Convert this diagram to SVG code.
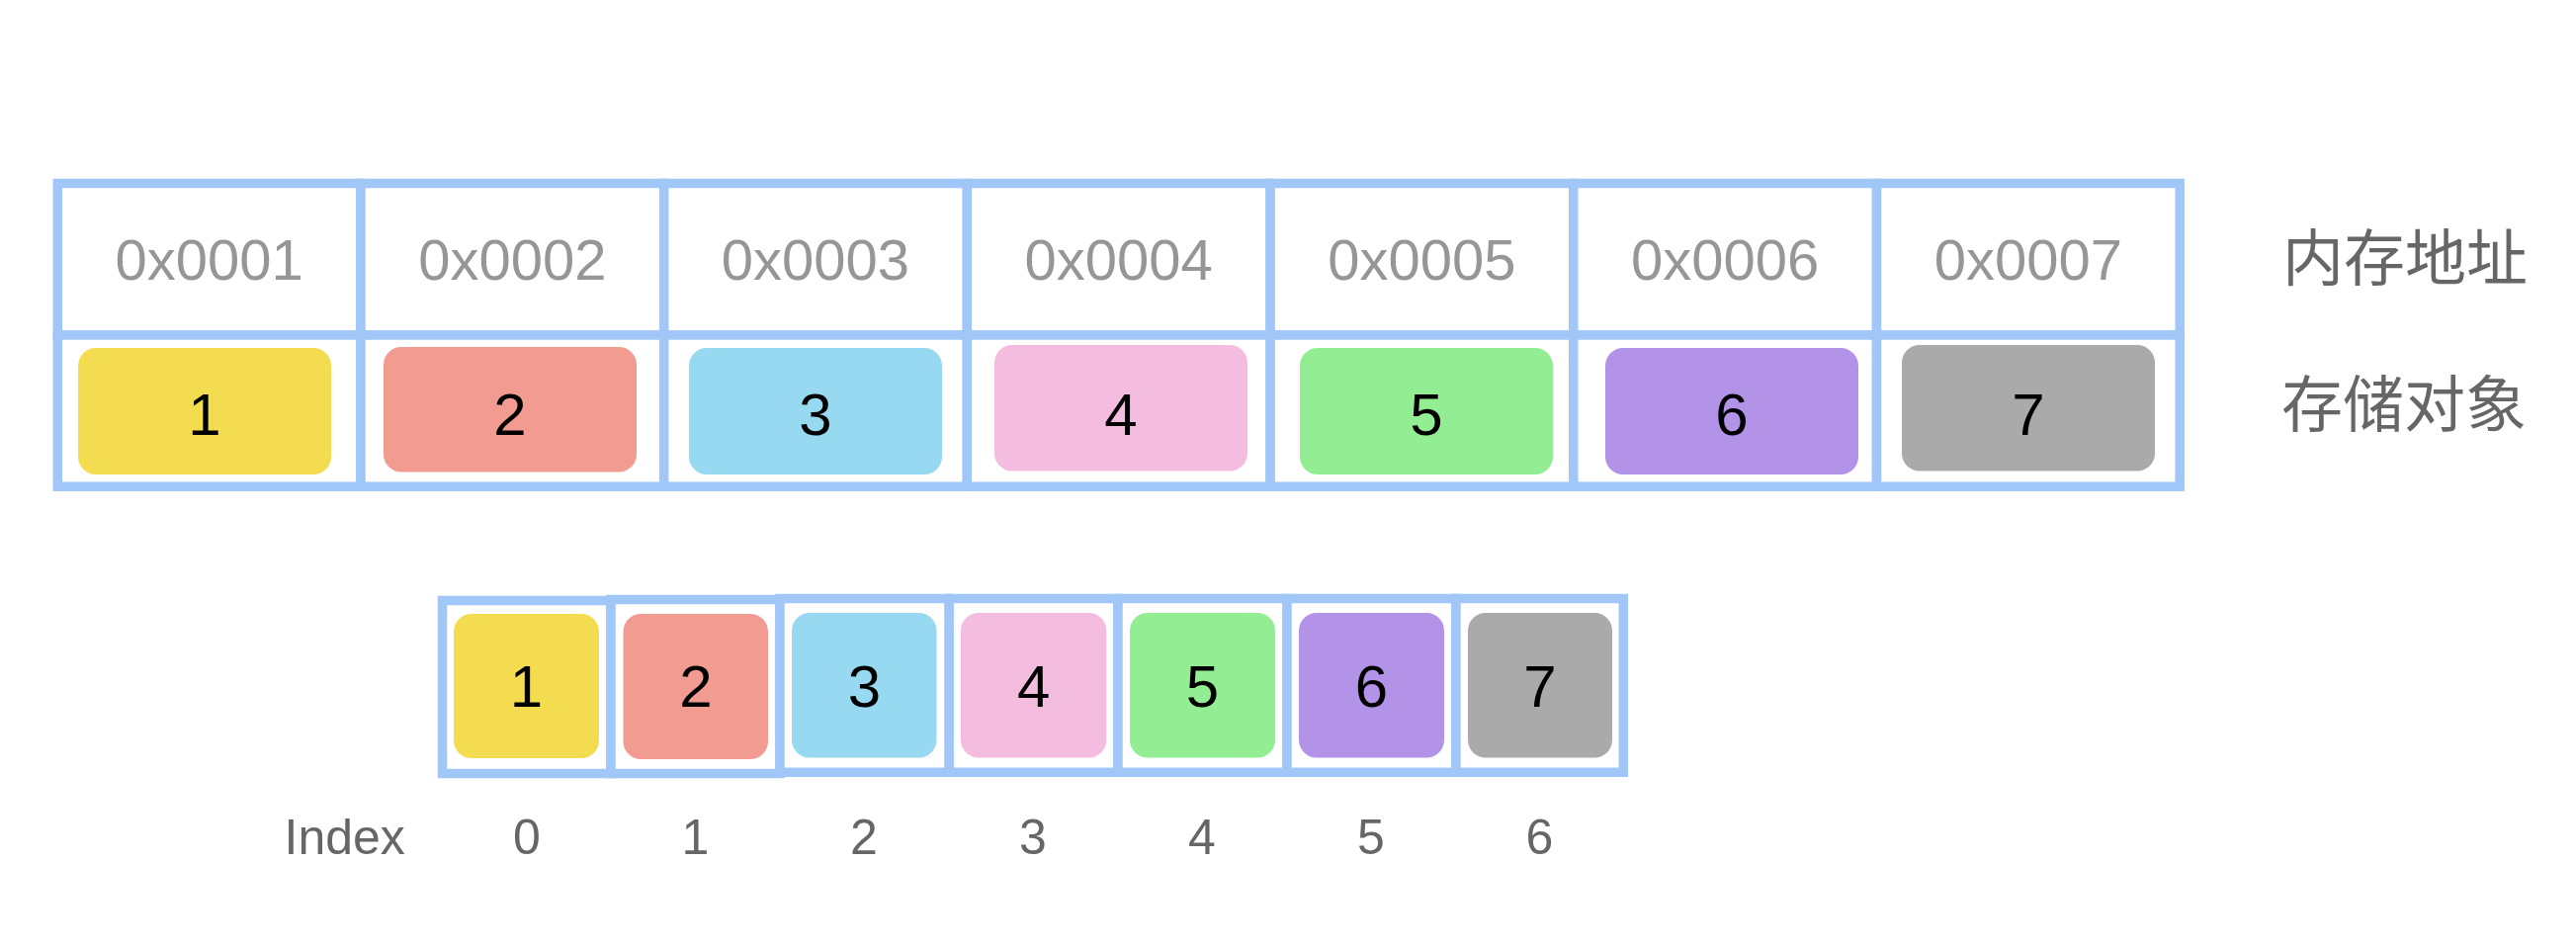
<svg xmlns="http://www.w3.org/2000/svg" width="2606" height="958" viewBox="0 0 2606 958">
<style>
.cell{fill:#ffffff;stroke:#a1c6f8;stroke-width:9.5}
.addr{font-family:"Liberation Sans",Arial,sans-serif;font-size:58px;fill:#969696;text-anchor:middle}
.num{font-family:"Liberation Sans",Arial,sans-serif;font-size:60px;fill:#000000;text-anchor:middle}
.idx{font-family:"Liberation Sans",Arial,sans-serif;font-size:50px;fill:#666666;text-anchor:middle}
.lbl{font-family:"Liberation Sans","Noto Sans CJK SC",sans-serif;font-size:62px;fill:#666666}
.c1{fill:#f3dc50}.c2{fill:#f19b91}.c3{fill:#98d9f2}.c4{fill:#f4bde0}.c5{fill:#93ee93}.c6{fill:#b393e8}.c7{fill:#aaaaaa}
</style>
<rect width="2606" height="958" fill="#ffffff"/>
<g id="memory-table">
  <g id="mem-1">
    <rect class="cell" x="58.3" y="185.5" width="306.7" height="153.5"/>
    <rect class="cell" x="58.3" y="339" width="306.7" height="153.2"/>
    <text class="addr" x="211.6" y="283">0x0001</text>
    <rect class="c1" x="79" y="352" width="256" height="128" rx="18"/>
    <text class="num" x="207" y="440">1</text>
  </g>
  <g id="mem-2">
    <rect class="cell" x="365" y="185.5" width="306.7" height="153.5"/>
    <rect class="cell" x="365" y="339" width="306.7" height="153.2"/>
    <text class="addr" x="518.3" y="283">0x0002</text>
    <rect class="c2" x="388" y="351" width="256" height="126.5" rx="18"/>
    <text class="num" x="516" y="440">2</text>
  </g>
  <g id="mem-3">
    <rect class="cell" x="671.7" y="185.5" width="306.7" height="153.5"/>
    <rect class="cell" x="671.7" y="339" width="306.7" height="153.2"/>
    <text class="addr" x="825" y="283">0x0003</text>
    <rect class="c3" x="697" y="352" width="256" height="128" rx="18"/>
    <text class="num" x="825" y="440">3</text>
  </g>
  <g id="mem-4">
    <rect class="cell" x="978.4" y="185.5" width="306.7" height="153.5"/>
    <rect class="cell" x="978.4" y="339" width="306.7" height="153.2"/>
    <text class="addr" x="1131.7" y="283">0x0004</text>
    <rect class="c4" x="1006" y="349" width="256" height="127.5" rx="18"/>
    <text class="num" x="1134" y="440">4</text>
  </g>
  <g id="mem-5">
    <rect class="cell" x="1285.1" y="185.5" width="306.7" height="153.5"/>
    <rect class="cell" x="1285.1" y="339" width="306.7" height="153.2"/>
    <text class="addr" x="1438.4" y="283">0x0005</text>
    <rect class="c5" x="1315" y="352" width="256" height="128" rx="18"/>
    <text class="num" x="1443" y="440">5</text>
  </g>
  <g id="mem-6">
    <rect class="cell" x="1591.8" y="185.5" width="306.7" height="153.5"/>
    <rect class="cell" x="1591.8" y="339" width="306.7" height="153.2"/>
    <text class="addr" x="1745.1" y="283">0x0006</text>
    <rect class="c6" x="1624" y="352" width="256" height="128" rx="18"/>
    <text class="num" x="1752" y="440">6</text>
  </g>
  <g id="mem-7">
    <rect class="cell" x="1898.5" y="185.5" width="306.7" height="153.5"/>
    <rect class="cell" x="1898.5" y="339" width="306.7" height="153.2"/>
    <text class="addr" x="2051.8" y="283">0x0007</text>
    <rect class="c7" x="1924" y="349" width="256" height="127.5" rx="18"/>
    <text class="num" x="2052" y="440">7</text>
  </g>
</g>
<g id="labels">
  <text class="lbl" x="2309" y="284">内存地址</text>
  <text class="lbl" x="2308" y="432">存储对象</text>
</g>
<g id="array">
  <g id="arr-0">
    <rect class="cell" x="447.5" y="607.5" width="170.5" height="175"/>
    <rect class="c1" x="459" y="621" width="147" height="146" rx="18"/>
    <text class="num" x="532.5" y="715">1</text>
    <text class="idx" x="533" y="864">0</text>
  </g>
  <g id="arr-1">
    <rect class="cell" x="618" y="606.5" width="171" height="176"/>
    <rect class="c2" x="630.5" y="621" width="146.5" height="147" rx="18"/>
    <text class="num" x="704" y="715">2</text>
    <text class="idx" x="703.5" y="864">1</text>
  </g>
  <g id="arr-2">
    <rect class="cell" x="789" y="605.5" width="171.2" height="175.8"/>
    <rect class="c3" x="801" y="620" width="146.5" height="146.5" rx="18"/>
    <text class="num" x="874.5" y="715">3</text>
    <text class="idx" x="874" y="864">2</text>
  </g>
  <g id="arr-3">
    <rect class="cell" x="960.2" y="605.5" width="170.8" height="175.8"/>
    <rect class="c4" x="972" y="620" width="147.3" height="146.5" rx="18"/>
    <text class="num" x="1045.6" y="715">4</text>
    <text class="idx" x="1045" y="864">3</text>
  </g>
  <g id="arr-4">
    <rect class="cell" x="1131" y="605.5" width="171" height="175.8"/>
    <rect class="c5" x="1143" y="620" width="147" height="146.5" rx="18"/>
    <text class="num" x="1216.5" y="715">5</text>
    <text class="idx" x="1216" y="864">4</text>
  </g>
  <g id="arr-5">
    <rect class="cell" x="1302" y="605.5" width="171" height="175.8"/>
    <rect class="c6" x="1314" y="620" width="147" height="146.5" rx="18"/>
    <text class="num" x="1387.5" y="715">6</text>
    <text class="idx" x="1387" y="864">5</text>
  </g>
  <g id="arr-6">
    <rect class="cell" x="1473" y="605.5" width="169.3" height="175.8"/>
    <rect class="c7" x="1485" y="620" width="146" height="146.5" rx="18"/>
    <text class="num" x="1558" y="715">7</text>
    <text class="idx" x="1557.5" y="864">6</text>
  </g>
  <text class="idx" x="287.5" y="864" style="text-anchor:start">Index</text>
</g>
<g id="connectors"/>
</svg>
